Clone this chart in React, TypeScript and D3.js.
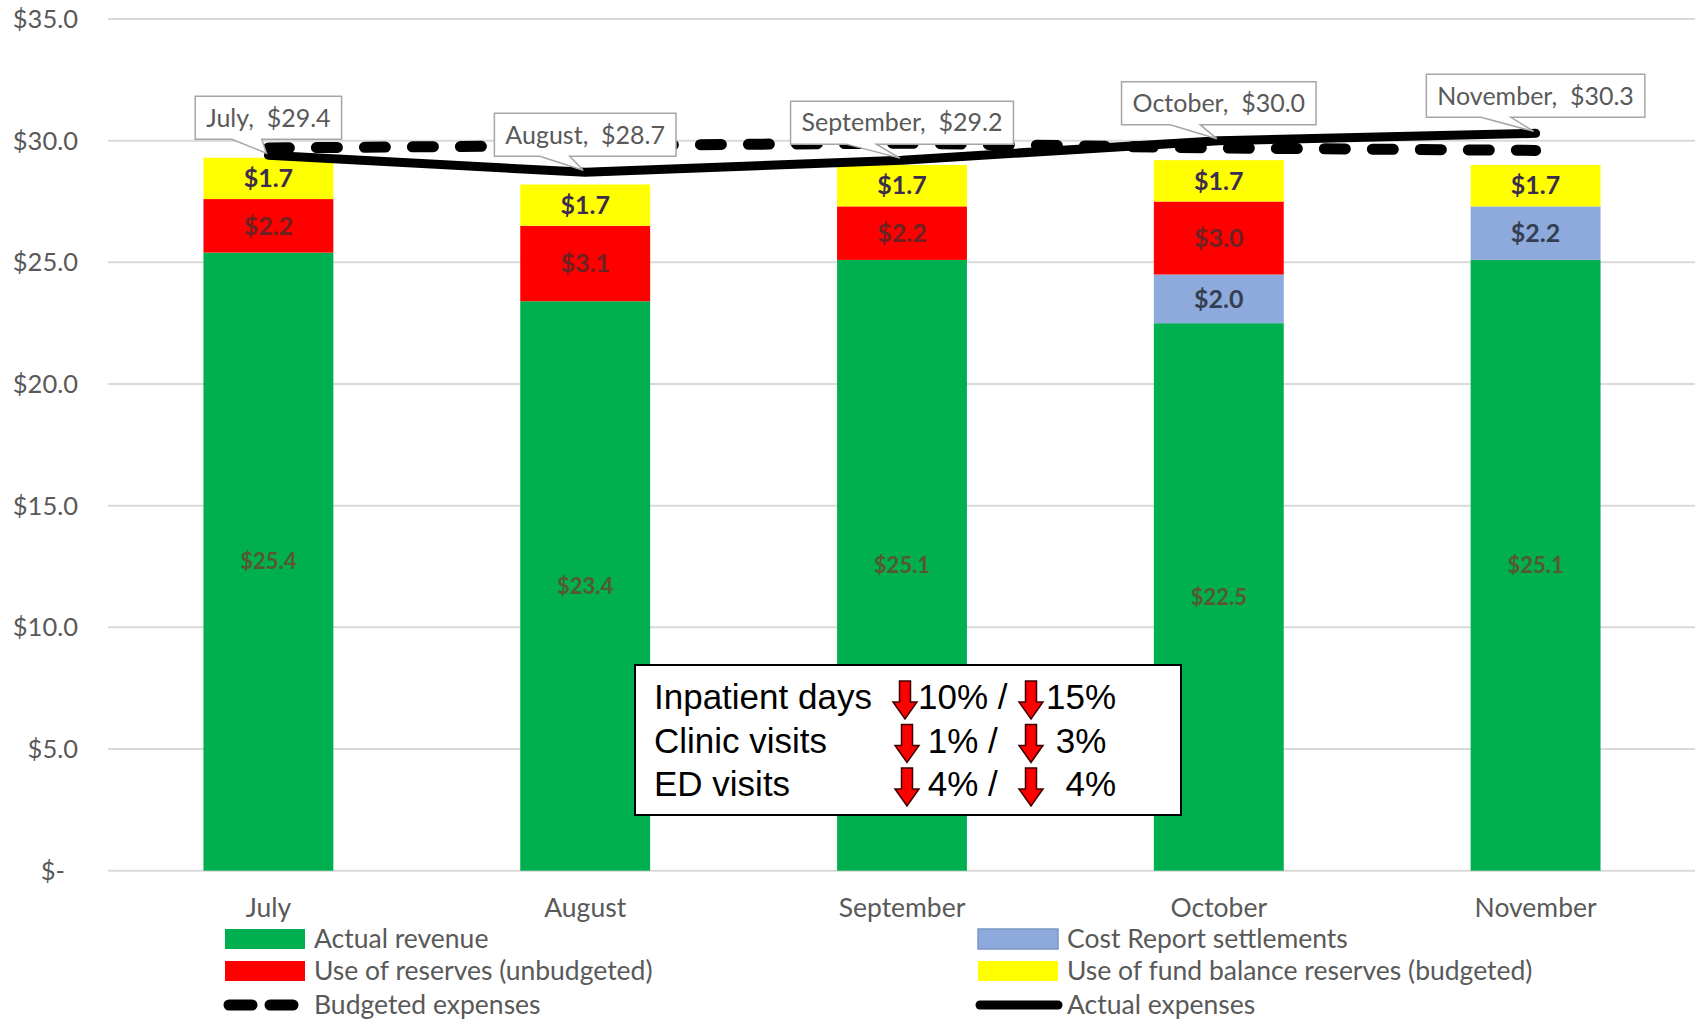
import React, { useEffect, useRef } from "react";
import * as d3 from "d3";

const months = ["July", "August", "September", "October", "November"];
const actualRevenue = [25.4, 23.4, 25.1, 22.5, 25.1];
const costReport = [0, 0, 0, 2.0, 2.2];
const reservesUnbudgeted = [2.2, 3.1, 2.2, 3.0, 0];
const fundBalance = [1.7, 1.7, 1.7, 1.7, 1.7];
const budgetedExpenses = [29.7, 29.8, 29.9, 29.7, 29.6];
const actualExpenses = [29.4, 28.7, 29.2, 30.0, 30.3];
const yTicks = [0, 5, 10, 15, 20, 25, 30, 35];

const infoRows = [
  { label: "Inpatient days", a: "10% /", b: "15%" },
  { label: "Clinic visits", a: " 1% /", b: " 3%" },
  { label: "ED visits", a: " 4% /", b: "  4%" },
];

const W = 1698;
const H = 1020;
const FONT = "Lato, 'Open Sans', sans-serif";
const GRAY = "#595959";

export default function App() {
  const ref = useRef<SVGSVGElement | null>(null);

  useEffect(() => {
    const svg = d3.select(ref.current);
    svg.selectAll("*").remove();

    const x = d3
      .scaleBand<string>()
      .domain(months)
      .range([110, 1694])
      .paddingInner(0.59)
      .paddingOuter(0.295);
    const y = d3.scaleLinear().domain([0, 35]).range([870.7, 19]);

    // gridlines
    svg
      .append("g")
      .selectAll("line")
      .data(yTicks)
      .join("line")
      .attr("x1", 108)
      .attr("x2", 1695)
      .attr("y1", (d) => y(d))
      .attr("y2", (d) => y(d))
      .attr("stroke", "#d9d9d9")
      .attr("stroke-width", 2);

    // y tick labels
    svg
      .append("g")
      .selectAll("text")
      .data(yTicks)
      .join("text")
      .attr("x", (d) => (d === 0 ? 65 : 78))
      .attr("y", (d) => y(d))
      .attr("dy", "0.35em")
      .attr("text-anchor", "end")
      .attr("font-family", FONT)
      .attr("font-size", 25.5)
      .attr("fill", GRAY)
      .text((d) => (d === 0 ? "$-" : "$" + d3.format(".1f")(d)));

    // stacked bars
    const keys = ["rev", "cost", "res", "fund"];
    const colors: Record<string, string> = {
      rev: "#00B050",
      cost: "#8EA9DB",
      res: "#FF0000",
      fund: "#FFFF00",
    };
    const labelColor: Record<string, string> = {
      rev: "#7a3328",
      cost: "#333f50",
      res: "#4a2a2a",
      fund: "#3b2d4d",
    };
    const rows = months.map((m, i) => ({
      month: m,
      rev: actualRevenue[i],
      cost: costReport[i],
      res: reservesUnbudgeted[i],
      fund: fundBalance[i],
    }));
    const stacked = d3.stack<any>().keys(keys)(rows);

    const barG = svg.append("g");
    stacked.forEach((layer) => {
      const k = layer.key;
      layer.forEach((seg, i) => {
        const v = seg[1] - seg[0];
        if (v <= 0) return;
        const m = months[i];
        barG
          .append("rect")
          .attr("x", x(m)!)
          .attr("width", x.bandwidth())
          .attr("y", y(seg[1]))
          .attr("height", y(seg[0]) - y(seg[1]))
          .attr("fill", colors[k]);
        barG
          .append("text")
          .attr("x", x(m)! + x.bandwidth() / 2)
          .attr("y", y((seg[0] + seg[1]) / 2))
          .attr("dy", "0.35em")
          .attr("text-anchor", "middle")
          .attr("font-family", FONT)
          .attr("font-size", k === "rev" ? 22 : 25)
          .attr("font-weight", 700)
          .attr("fill", labelColor[k])
          .attr("opacity", k === "rev" ? 0.7 : k === "res" ? 0.8 : 1)
          .text("$" + d3.format(".1f")(v));
      });
    });

    // lines
    const cx = (m: string) => x(m)! + x.bandwidth() / 2;
    const line = d3
      .line<number>()
      .x((_, i) => cx(months[i]))
      .y((d) => y(d));

    svg
      .append("path")
      .attr("d", line(budgetedExpenses)!)
      .attr("fill", "none")
      .attr("stroke", "#000")
      .attr("stroke-width", 11)
      .attr("stroke-linecap", "round")
      .attr("stroke-dasharray", "21 27");

    svg
      .append("path")
      .attr("d", line(actualExpenses)!)
      .attr("fill", "none")
      .attr("stroke", "#000")
      .attr("stroke-width", 9)
      .attr("stroke-linejoin", "round")
      .attr("stroke-linecap", "round");

    // callouts
    const calG = svg.append("g");
    actualExpenses.forEach((v, i) => {
      const m = months[i];
      const px = cx(m);
      const py = y(v);
      const g = calG.append("g");
      const t = g
        .append("text")
        .attr("font-family", FONT)
        .attr("font-size", 25)
        .attr("fill", GRAY)
        .attr("text-anchor", "middle")
        .attr("x", px)
        .attr("y", py - 37.5)
        .attr("dy", "0.35em")
        .style("white-space", "pre")
        .text(`${m},  $${d3.format(".1f")(v)}`);
      const tw = (t.node() as SVGTextElement).getComputedTextLength();
      const bw = tw + 22;
      const bh = 43;
      const top = py - 59;
      const left = px - bw / 2;
      const bot = top + bh;
      const b0 = px - bw * 0.25;
      const b1 = b0 + 30;
      const path = [
        [left, top],
        [left + bw, top],
        [left + bw, bot],
        [b1, bot],
        [px - 2, py - 2],
        [b0, bot],
        [left, bot],
      ];
      g.insert("path", "text")
        .attr("d", "M" + path.map((p) => p.join(",")).join("L") + "Z")
        .attr("fill", "#fff")
        .attr("stroke", "#a6a6a6")
        .attr("stroke-width", 1.5);
    });

    // category labels
    svg
      .append("g")
      .selectAll("text")
      .data(months)
      .join("text")
      .attr("x", (d) => cx(d))
      .attr("y", 907.5)
      .attr("dy", "0.35em")
      .attr("text-anchor", "middle")
      .attr("font-family", FONT)
      .attr("font-size", 26.5)
      .attr("fill", GRAY)
      .text((d) => d);

    // info box
    const ib = svg.append("g");
    ib.append("rect")
      .attr("x", 635)
      .attr("y", 665)
      .attr("width", 546)
      .attr("height", 150)
      .attr("fill", "#fff")
      .attr("stroke", "#000")
      .attr("stroke-width", 2);
    const arrow = (xc: number, yTop: number) => {
      const w = 24,
        h = 38,
        sw = 11,
        hh = 17;
      const pts = [
        [xc - sw / 2, yTop],
        [xc + sw / 2, yTop],
        [xc + sw / 2, yTop + h - hh],
        [xc + w / 2, yTop + h - hh],
        [xc, yTop + h],
        [xc - w / 2, yTop + h - hh],
        [xc - sw / 2, yTop + h - hh],
      ];
      ib.append("path")
        .attr("d", "M" + pts.map((p) => p.join(",")).join("L") + "Z")
        .attr("fill", "#ff0000")
        .attr("stroke", "#3a0000")
        .attr("stroke-width", 1.5)
        .attr("stroke-linejoin", "miter");
    };
    const AF = "'Liberation Sans', Arial, sans-serif";
    infoRows.forEach((r, i) => {
      const base = 709 + i * 43.5;
      ib.append("text")
        .attr("x", 654)
        .attr("y", base)
        .attr("font-family", AF)
        .attr("font-size", 35)
        .attr("fill", "#000")
        .text(r.label);
      arrow(i === 0 ? 905 : 907, base - 28);
      arrow(1031, base - 28);
      ib.append("text")
        .attr("x", 918)
        .attr("y", base)
        .attr("font-family", AF)
        .attr("font-size", 35)
        .attr("fill", "#000")
        .style("white-space", "pre")
        .text(r.a);
      ib.append("text")
        .attr("x", 1046)
        .attr("y", base)
        .attr("font-family", AF)
        .attr("font-size", 35)
        .attr("fill", "#000")
        .style("white-space", "pre")
        .text(r.b);
    });

    // legend
    const lg = svg.append("g");
    const legText = (tx: number, ty: number, s: string) =>
      lg
        .append("text")
        .attr("x", tx)
        .attr("y", ty)
        .attr("dy", "0.35em")
        .attr("font-family", FONT)
        .attr("font-size", 26.5)
        .attr("fill", GRAY)
        .text(s);
    const rowsY = [939, 971, 1005];
    lg.append("rect").attr("x", 225).attr("y", rowsY[0] - 10).attr("width", 80).attr("height", 20).attr("fill", colors.rev);
    legText(314, rowsY[0], "Actual revenue");
    lg.append("rect").attr("x", 225).attr("y", rowsY[1] - 10).attr("width", 80).attr("height", 20).attr("fill", colors.res);
    legText(314, rowsY[1], "Use of reserves (unbudgeted)");
    lg.append("line")
      .attr("x1", 229).attr("x2", 301).attr("y1", rowsY[2]).attr("y2", rowsY[2])
      .attr("stroke", "#000").attr("stroke-width", 11).attr("stroke-linecap", "round")
      .attr("stroke-dasharray", "23 18");
    legText(314, rowsY[2], "Budgeted expenses");

    lg.append("rect").attr("x", 978).attr("y", rowsY[0] - 10).attr("width", 80).attr("height", 20)
      .attr("fill", colors.cost).attr("stroke", "#7a96c8").attr("stroke-width", 1.5);
    legText(1067, rowsY[0], "Cost Report settlements");
    lg.append("rect").attr("x", 978).attr("y", rowsY[1] - 10).attr("width", 80).attr("height", 20).attr("fill", colors.fund);
    legText(1067, rowsY[1], "Use of fund balance reserves (budgeted)");
    lg.append("line")
      .attr("x1", 980).attr("x2", 1058).attr("y1", rowsY[2]).attr("y2", rowsY[2])
      .attr("stroke", "#000").attr("stroke-width", 9).attr("stroke-linecap", "round");
    legText(1067, rowsY[2], "Actual expenses");
  }, []);

  return (
    <svg
      ref={ref}
      width={W}
      height={H}
      style={{ position: "absolute", left: 0, top: 0, background: "#fff" }}
    />
  );
}
